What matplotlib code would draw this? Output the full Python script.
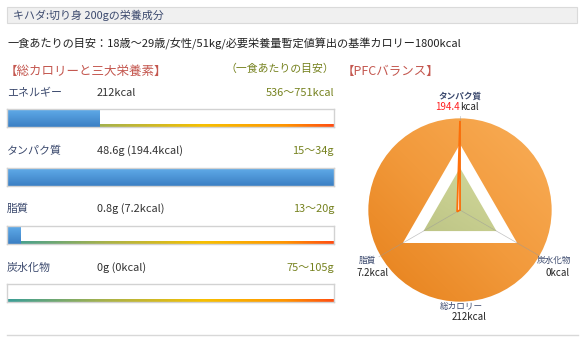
import numpy as np
import matplotlib
matplotlib.use("Agg")
import matplotlib.pyplot as plt
from matplotlib.colors import LinearSegmentedColormap
from matplotlib.patches import Rectangle, Circle, Polygon

plt.rcParams['font.family'] = ['Noto Sans CJK JP', 'DejaVu Sans']

# --- data ---
title = "キハダ:切り身 200gの栄養成分"
note = "一食あたりの目安：18歳〜29歳/女性/51kg/必要栄養量暫定値算出の基準カロリー1800kcal"

nutrients = ["エネルギー", "タンパク質", "脂質", "炭水化物"]
amounts = [212, 48.6, 0.8, 0]
value_texts = ["212kcal", "48.6g (194.4kcal)", "0.8g (7.2kcal)", "0g (0kcal)"]
target_low = [536, 15, 13, 75]
target_high = [751, 34, 20, 105]
target_units = ["kcal", "g", "g", "g"]

pfc_names = ["タンパク質", "炭水化物", "脂質"]
pfc_angles = [90, -30, 210]
pfc_kcal = [194.4, 0.0, 7.2]
radar_max = 200.0
pfc_band_low = [0.46, 0.46, 0.46]
pfc_band_high = [0.72, 0.72, 0.72]
total_kcal = 212

W, H = 588, 338
fig = plt.figure(figsize=(W / 100, H / 100), dpi=100)
ax = fig.add_axes([0, 0, 1, 1])
ax.set_xlim(0, W)
ax.set_ylim(H, 0)
ax.axis('off')

navy = '#3c4a6e'
olive = '#76821f'
red = '#c4574f'

# header
ax.add_patch(Rectangle((7, 7), 570, 16, facecolor='#f0f0f0', edgecolor='#dadada', lw=0.8))
ax.text(13, 15, title, fontsize=7.9, color=navy, va='center')
ax.text(7, 44, note, fontsize=8.05, color='#222222', va='center')

ax.text(5, 71, "【総カロリーと三大栄養素】", fontsize=9.0, color=red, va='center')
ax.text(334, 69, "（一食あたりの目安）", fontsize=7.8, color=olive, va='center', ha='right')
ax.text(342, 71, "【PFCバランス】", fontsize=9.0, color=red, va='center')

ax.plot([7, 578], [335, 335], color='#d8d8d8', lw=1)

label_y = [93, 151, 209, 268]
box_top = [109, 168, 226, 284]

grad_cmap = LinearSegmentedColormap.from_list(
    'g', [(0.0, '#3a9e98'), (0.3, '#a8b24a'), (0.6, '#f7c000'),
          (0.85, '#ff9500'), (1.0, '#ff4d12')])
blue_cmap = LinearSegmentedColormap.from_list('b', ['#3b7fc4', '#60abe8'])

for i, name in enumerate(nutrients):
    ax.text(7, label_y[i], name, fontsize=7.9, color=navy, va='center')
    ax.text(97, label_y[i], value_texts[i], fontsize=7.9, color='#333333', va='center')
    ax.text(334, label_y[i], f"{target_low[i]}〜{target_high[i]}{target_units[i]}",
            fontsize=7.9, color=olive, va='center', ha='right')

    hi = target_high[i]
    bax = fig.add_axes([7 / W, (H - box_top[i] - 18) / H, 327 / W, 18 / H])
    bax.imshow(np.linspace(0, 1, 256)[None, :], cmap=grad_cmap, aspect='auto',
               extent=[0, hi, 0.02, 0.17], zorder=1)
    v = min(amounts[i], hi)
    if v > 0:
        bax.imshow(np.linspace(0, 1, 64)[:, None], cmap=blue_cmap, aspect='auto',
                   origin='lower', extent=[0, v, 0, 1], zorder=2)
    bax.set_xlim(0, hi)
    bax.set_ylim(0, 1)
    bax.set_xticks([])
    bax.set_yticks([])
    for s in bax.spines.values():
        s.set_color('#d2d2d2')
        s.set_linewidth(1.0)

# --- radar ---
rax = fig.add_axes([350 / W, (H - 320) / H, 220 / W, 220 / H])
rax.set_xlim(-1.2, 1.2)
rax.set_ylim(-1.2, 1.2)
rax.axis('off')

th = np.deg2rad(pfc_angles)

xx, yy = np.meshgrid(np.linspace(-1, 1, 200), np.linspace(-1, 1, 200))
orange_cmap = LinearSegmentedColormap.from_list('o', ['#e6801a', '#f29a3c', '#f9ae58'])
im = rax.imshow((xx + yy + 2) / 4, cmap=orange_cmap, origin='lower',
                extent=[-1, 1, -1, 1], zorder=1)
circ = Circle((0, 0), 1.0, transform=rax.transData)
im.set_clip_path(circ)

hi_pts = np.column_stack([np.array(pfc_band_high) * np.cos(th), np.array(pfc_band_high) * np.sin(th)])
rax.add_patch(Polygon(hi_pts, closed=True, facecolor='white', edgecolor='none', zorder=2))

lo_pts = np.column_stack([np.array(pfc_band_low) * np.cos(th), np.array(pfc_band_low) * np.sin(th)])
green_cmap = LinearSegmentedColormap.from_list('gr', ['#aab274', '#c6cd8e', '#e2e6b0'])
gim = rax.imshow((xx * 0.6 + yy + 1.6) / 3.2, cmap=green_cmap, origin='lower',
                 extent=[-1, 1, -1, 1], zorder=3)
gpoly = Polygon(lo_pts, closed=True, facecolor='none', edgecolor='none', zorder=3)
rax.add_patch(gpoly)
gim.set_clip_path(gpoly)

for t in th:
    rax.plot([0, 1.02 * np.cos(t)], [0, 1.02 * np.sin(t)], color='#9a9a9a', lw=0.5,
             alpha=0.6, zorder=4)

r = np.array(pfc_kcal) / radar_max
dpts = np.column_stack([r * np.cos(th), r * np.sin(th)])
rax.add_patch(Polygon(dpts, closed=True, facecolor='#fff4e8', edgecolor='#ff6a00',
                      lw=1.3, alpha=0.95, zorder=5))

lab_kw = dict(fontsize=6.2, color=navy, clip_on=False)
rax.text(0, 1.24, pfc_names[0], ha='center', va='center', fontweight='bold', **lab_kw)
rax.text(0.0, 1.12, f"{pfc_kcal[0]}", ha='right', va='center', fontsize=7, color='#ff2020')
rax.text(0.0, 1.12, "kcal", ha='left', va='center', fontsize=7, color='#222222')

rax.text(-1.11, -0.55, pfc_names[2], ha='left', va='center', **lab_kw)
rax.text(-1.13, -0.69, f"{pfc_kcal[2]}kcal", ha='left', va='center', fontsize=7, color='#222222')
rax.text(1.21, -0.55, pfc_names[1], ha='right', va='center', **lab_kw)
rax.text(1.20, -0.69, f"{pfc_kcal[1]:g}kcal", ha='right', va='center', fontsize=7, color='#222222')
rax.text(0.02, -1.05, "総カロリー", ha='center', va='center', **lab_kw)
rax.text(0.1, -1.17, f"{total_kcal}kcal", ha='center', va='center', fontsize=7, color='#222222')

fig.savefig("out.png", dpi=100)
